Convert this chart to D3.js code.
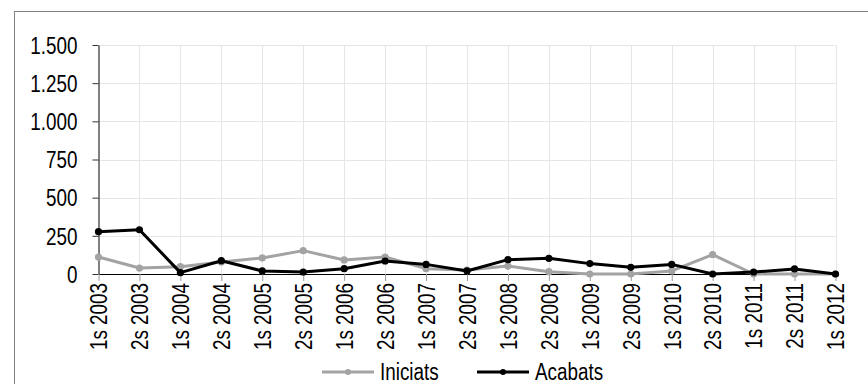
<!DOCTYPE html>
<html>
<head>
<meta charset="utf-8">
<script src="https://cdn.jsdelivr.net/npm/d3@7"></script>
<style>
  html, body { margin: 0; padding: 0; background: #fff; }
  svg { display: block; }
  text { font-family: "Liberation Sans Narrow", "Arial Narrow", "Liberation Sans", Arial, sans-serif; fill: #000; }
</style>
</head>
<body>
<svg id="chart" width="868" height="384"></svg>
<script>
// Semesters on the x axis
const categories = [
  "1s 2003", "2s 2003", "1s 2004", "2s 2004", "1s 2005", "2s 2005", "1s 2006",
  "2s 2006", "1s 2007", "2s 2007", "1s 2008", "2s 2008", "1s 2009", "2s 2009",
  "1s 2010", "2s 2010", "1s 2011", "2s 2011", "1s 2012"
];
// Series values per semester
const iniciats = [111, 39, 48, 79, 105, 153, 92, 111, 35, 26, 52, 15, 0, 0, 20, 127, 0, 0, 0];
const acabats  = [277, 290, 9, 87, 20, 13, 35, 85, 63, 20, 94, 103, 68, 44, 63, 0, 13, 33, 0];
// Y-axis ticks
const yTicks = [0, 250, 500, 750, 1000, 1250, 1500];
const seriesNames = ["Iniciats", "Acabats"];
const seriesColors = ["#a3a3a3", "#000000"];

const svg = d3.select("#chart");
const fmt = v => d3.format(",")(v).replace(/,/g, ".");
const FONT = "23px";
const NARROW = 0.82; // horizontal squeeze for a condensed look

// Outer frame
svg.append("rect")
  .attr("x", 14.5).attr("y", 11.5)
  .attr("width", 900).attr("height", 420)
  .attr("fill", "none").attr("stroke", "#808080").attr("stroke-width", 1);

const x = d3.scalePoint().domain(categories).range([98.5, 835.5]);
const y = d3.scaleLinear().domain([0, 1500]).range([274, 45]);

// Grid
const grid = svg.append("g");
grid.selectAll("line.h").data(yTicks.filter(d => d > 0)).join("line")
  .attr("x1", x.range()[0]).attr("x2", x.range()[1])
  .attr("y1", d => Math.round(y(d)) + 0.5).attr("y2", d => Math.round(y(d)) + 0.5)
  .attr("stroke", "#e6e6e6").attr("stroke-width", 1);
grid.selectAll("line.v").data(categories.slice(1)).join("line")
  .attr("x1", d => Math.round(x(d)) + 0.5).attr("x2", d => Math.round(x(d)) + 0.5)
  .attr("y1", y(1500)).attr("y2", y(0))
  .attr("stroke", "#e6e6e6").attr("stroke-width", 1);

// Y axis
const yAxis = svg.append("g")
  .attr("transform", `translate(${x.range()[0]},0)`)
  .call(d3.axisLeft(y).tickValues(yTicks).tickFormat(fmt).tickSize(6).tickSizeOuter(0));
yAxis.select(".domain").attr("stroke", "#000");
yAxis.selectAll(".tick line").attr("stroke", "#333");
yAxis.selectAll(".tick text")
  .style("font-size", FONT).attr("fill", "#000")
  .attr("text-anchor", "end")
  .attr("x", 0).attr("dy", "0.36em")
  .attr("transform", `translate(-21,0) scale(${NARROW},1)`);

// X axis
const xAxis = svg.append("g")
  .attr("transform", `translate(0,${y(0)})`)
  .call(d3.axisBottom(x).tickSize(7).tickSizeOuter(0));
xAxis.select(".domain").attr("stroke", "#000");
xAxis.selectAll(".tick line").attr("stroke", "#999");
xAxis.selectAll(".tick text")
  .style("font-size", FONT).attr("fill", "#000")
  .attr("text-anchor", "end")
  .attr("x", 0).attr("y", 0).attr("dy", "0.36em")
  .attr("transform", `rotate(-90) translate(-9,0) scale(${NARROW},1)`);

// Series lines and markers
const line = d3.line().x((d, i) => x(categories[i])).y(d => y(d));
[iniciats, acabats].forEach((vals, k) => {
  const g = svg.append("g");
  g.append("path").datum(vals)
    .attr("d", line).attr("fill", "none")
    .attr("stroke", seriesColors[k]).attr("stroke-width", 3)
    .attr("stroke-linejoin", "round");
  g.selectAll("circle").data(vals).join("circle")
    .attr("cx", (d, i) => x(categories[i])).attr("cy", d => y(d))
    .attr("r", 3.6).attr("fill", seriesColors[k]);
});

// Legend
const legendX = [322, 477];
const legend = svg.append("g");
seriesNames.forEach((name, k) => {
  const lg = legend.append("g").attr("transform", `translate(${legendX[k]},372)`);
  lg.append("line").attr("x1", 0).attr("x2", 52).attr("y1", 0).attr("y2", 0)
    .attr("stroke", seriesColors[k]).attr("stroke-width", 3);
  lg.append("circle").attr("cx", 26).attr("cy", 0).attr("r", 3).attr("fill", seriesColors[k]);
  lg.append("text").attr("x", 0).attr("y", 0).attr("dy", "0.36em")
    .attr("transform", `translate(58,0) scale(${NARROW},1)`)
    .style("font-size", FONT).text(name);
});
</script>
</body>
</html>
